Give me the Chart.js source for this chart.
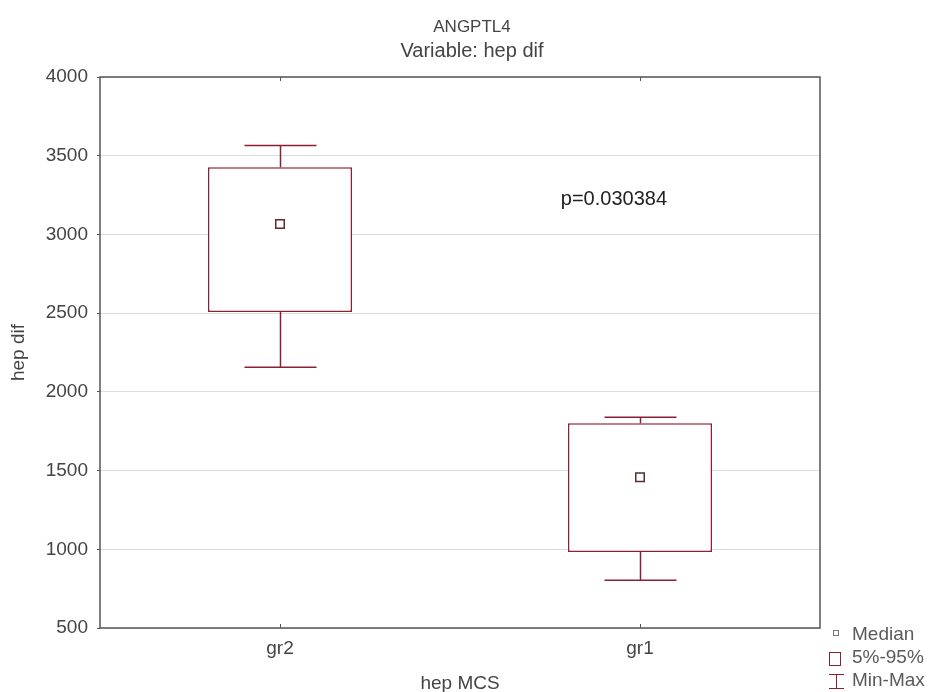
<!DOCTYPE html>
<html>
<head>
<meta charset="utf-8">
<script src="https://cdn.jsdelivr.net/npm/chart.js@4.4.1/dist/chart.umd.min.js"></script>
<style>
    body { margin: 0; background: #ffffff; }
    #wrap { width: 929px; height: 692px; }
</style>
</head>
<body>
<div id="wrap"><canvas id="boxChart"></canvas></div>
<script>
// values
var groups = ['gr2', 'gr1'];
var medians = [3066, 1457];
var pct5 = [2507, 982];
var pct95 = [3426, 1800];
var mins = [2156, 804];
var maxs = [3565, 1838];
var yMin = 500;
var yMax = 4000;
var yStep = 500;
var pValueText = 'p=0.030384';
var pValueAt = { x: 0.78, y: 3220 };
var legendItems = ['Median', '5%-95%', 'Min-Max'];

var boxColor = '#8b1f33';
var medianColor = '#5e2b2e';
var frameColor = '#555555';
var textColor = '#444444';
var fontFamily = "'Liberation Sans', Arial, sans-serif";

// whiskers: vertical line from box edge to min/max, with a cap half the box width
var whiskerPlugin = {
    id: 'whiskers',
    afterDatasetsDraw: function (chart) {
        var ctx = chart.ctx;
        var yScale = chart.scales.y;
        var boxMeta = chart.getDatasetMeta(1);
        ctx.save();
        ctx.strokeStyle = boxColor;
        ctx.lineWidth = 1.5;
        boxMeta.data.forEach(function (bar, i) {
            var cx = Math.round(bar.x) + 0.5;
            var half = bar.width / 4;
            var pairs = [[pct95[i], maxs[i]], [pct5[i], mins[i]]];
            pairs.forEach(function (p) {
                var y0 = yScale.getPixelForValue(p[0]);
                var y1 = yScale.getPixelForValue(p[1]);
                ctx.beginPath();
                ctx.moveTo(cx, y0);
                ctx.lineTo(cx, y1);
                ctx.moveTo(cx - half, y1);
                ctx.lineTo(cx + half, y1);
                ctx.stroke();
            });
        });
        ctx.restore();
    }
};

// plot frame, inward category ticks, p-value note and the legend
var decorPlugin = {
    id: 'decor',
    afterDraw: function (chart) {
        var ctx = chart.ctx;
        var a = chart.chartArea;
        var xScale = chart.scales.x;
        var yScale = chart.scales.y;
        ctx.save();

        ctx.strokeStyle = frameColor;
        ctx.lineWidth = 1.5;
        ctx.strokeRect(a.left, a.top, a.right - a.left, a.bottom - a.top);

        ctx.lineWidth = 1;
        groups.forEach(function (g, i) {
            var x = Math.round(xScale.getPixelForValue(i)) + 0.5;
            ctx.beginPath();
            ctx.moveTo(x, a.top);
            ctx.lineTo(x, a.top + 4);
            ctx.moveTo(x, a.bottom);
            ctx.lineTo(x, a.bottom - 4);
            ctx.stroke();
        });

        ctx.fillStyle = '#222222';
        ctx.font = '20px ' + fontFamily;
        ctx.textAlign = 'left';
        ctx.textBaseline = 'middle';
        ctx.fillText(pValueText, xScale.getPixelForValue(pValueAt.x), yScale.getPixelForValue(pValueAt.y));

        // legend
        var lx = 829;
        var rows = [635, 658, 681];
        ctx.fillStyle = '#5a5a5a';
        ctx.font = '19px ' + fontFamily;
        legendItems.forEach(function (t, i) {
            ctx.fillText(t, lx + 23, rows[i]);
        });
        ctx.lineWidth = 1;
        ctx.strokeStyle = '#777777';
        ctx.strokeRect(833.5, 630.5, 5, 5);
        ctx.strokeStyle = boxColor;
        ctx.strokeRect(lx + 0.5, 652.5, 11, 13);
        ctx.beginPath();
        ctx.moveTo(lx, 674.5);
        ctx.lineTo(lx + 15, 674.5);
        ctx.moveTo(lx + 7.5, 674.5);
        ctx.lineTo(lx + 7.5, 688.5);
        ctx.moveTo(lx, 688.5);
        ctx.lineTo(lx + 15, 688.5);
        ctx.stroke();

        ctx.restore();
    }
};

var ctx = document.getElementById('boxChart').getContext('2d');
new Chart(ctx, {
    data: {
        labels: groups,
        datasets: [{
            type: 'line',
            label: 'Median',
            data: medians,
            showLine: false,
            pointStyle: 'rect',
            pointRadius: 6,
            pointHoverRadius: 6,
            pointBorderWidth: 1.5,
            pointBorderColor: medianColor,
            pointBackgroundColor: '#ffffff',
            order: 0
        }, {
            type: 'bar',
            label: '5%-95%',
            data: groups.map(function (g, i) { return [pct5[i], pct95[i]]; }),
            backgroundColor: '#ffffff',
            borderColor: boxColor,
            borderWidth: 1.5,
            borderSkipped: false,
            barPercentage: 0.4,
            categoryPercentage: 1.0,
            order: 1
        }]
    },
    options: {
        responsive: true,
        maintainAspectRatio: false,
        animation: false,
        layout: {
            padding: { left: 15, right: 0, top: 0, bottom: 0 }
        },
        plugins: {
            legend: { display: false },
            tooltip: { enabled: false },
            title: {
                display: true,
                text: 'ANGPTL4',
                color: textColor,
                font: { family: fontFamily, size: 17, weight: 'normal' },
                padding: { top: 17, bottom: 0 }
            },
            subtitle: {
                display: true,
                text: 'Variable: hep dif',
                color: textColor,
                font: { family: fontFamily, size: 20 },
                padding: { top: 1.6, bottom: 14 }
            }
        },
        scales: {
            x: {
                type: 'category',
                offset: true,
                grid: { display: false, drawTicks: false },
                border: { display: false },
                ticks: {
                    color: textColor,
                    font: { family: fontFamily, size: 19 },
                    padding: 9
                },
                title: {
                    display: true,
                    text: 'hep MCS',
                    color: textColor,
                    font: { family: fontFamily, size: 19 },
                    padding: { top: 0, bottom: -3 }
                },
                afterFit: function (scale) { scale.height = 64; }
            },
            y: {
                type: 'linear',
                position: 'left',
                min: yMin,
                max: yMax,
                grid: {
                    color: '#dcdcdc',
                    lineWidth: 1,
                    tickLength: 3,
                    tickColor: frameColor
                },
                border: { display: false },
                ticks: {
                    stepSize: yStep,
                    color: textColor,
                    font: { family: fontFamily, size: 19 },
                    padding: 9,
                    callback: function (value) { return String(value); }
                },
                title: {
                    display: true,
                    text: 'hep dif',
                    color: textColor,
                    font: { family: fontFamily, size: 19 },
                    padding: { top: -8, bottom: 0 }
                },
                afterFit: function (scale) { scale.width = 85; }
            },
            yRight: {
                type: 'linear',
                position: 'right',
                display: true,
                grid: { display: false, drawTicks: false },
                border: { display: false },
                ticks: { display: false },
                afterFit: function (scale) { scale.width = 109; }
            }
        }
    },
    plugins: [whiskerPlugin, decorPlugin]
});
</script>
</body>
</html>
